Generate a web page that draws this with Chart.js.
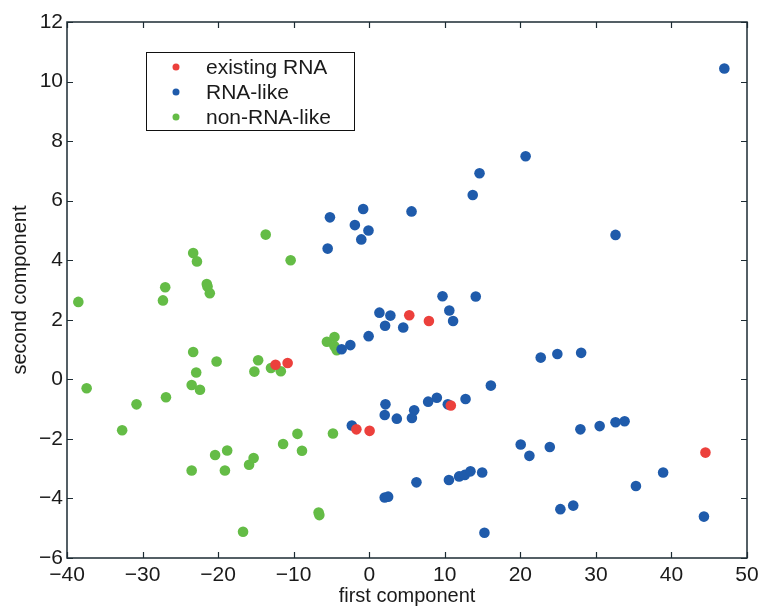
<!DOCTYPE html>
<html>
<head>
<meta charset="utf-8">
<script src="https://cdn.jsdelivr.net/npm/chart.js@4/dist/chart.umd.min.js"></script>
<style>
  html, body { margin: 0; padding: 0; background: #fff; }
  #wrap { width: 759px; height: 608px; }
</style>
</head>
<body>
<div id="wrap"><canvas id="grafico" width="759" height="608"></canvas></div>
<script>
// existing RNA (red)
const existX = [-12.4, -10.8, 5.3, 7.9, -1.7, 0.05, 10.8, 44.5];
const existY = [0.49, 0.55, 2.15, 1.96, -1.68, -1.73, -0.88, -2.46];

// RNA-like (blue)
const rnaX = [47.0, 20.7, 14.6, 13.7, 5.6, 32.6, 9.7, 14.1,
  -5.2, -5.5, -1.9, -0.8, -1.05, -0.1,
  1.35, 2.8, 10.6, 11.1, 2.1, 4.5, -0.08, -2.5, -3.65,
  22.7, 24.9, 28.05,
  16.1, 12.75, 8.95, 7.8, 10.4, 2.15, 2.05, 3.65, 5.95, 5.65, -2.3,
  20.05, 21.2, 23.9, 27.95, 30.5, 32.6, 33.8,
  38.9, 35.3, 25.3, 27.0, 44.3, 15.25,
  6.25, 10.55, 11.9, 12.65, 13.4, 14.95, 2.05, 2.5];
const rnaY = [10.44, 7.49, 6.92, 6.19, 5.64, 4.85, 2.79, 2.78,
  5.44, 4.39, 5.18, 5.72, 4.7, 5.0,
  2.24, 2.14, 2.31, 1.96, 1.8, 1.74, 1.45, 1.15, 1.01,
  0.73, 0.85, 0.89,
  -0.21, -0.66, -0.62, -0.75, -0.84, -0.84, -1.2, -1.32, -1.04, -1.3, -1.55,
  -2.19, -2.57, -2.27, -1.68, -1.57, -1.44, -1.41,
  -3.13, -3.58, -4.36, -4.24, -4.61, -5.15,
  -3.46, -3.38, -3.26, -3.21, -3.09, -3.13, -3.97, -3.94];

// non-RNA-like (green)
const nonX = [-38.5, -37.4, -32.7, -30.8, -27.3, -27.0, -26.9,
  -23.3, -22.8, -21.5, -21.4, -21.1,
  -23.3, -22.9, -23.5, -22.4, -20.2,
  -23.5, -20.4, -18.8, -19.1, -15.9, -15.3, -16.7, -6.7, -6.6,
  -14.7, -15.2, -13.0, -11.7, -9.5, -8.9, -11.4, -4.8,
  -5.6, -4.6, -4.6, -4.3, -13.7, -10.4];
const nonY = [2.6, -0.3, -1.71, -0.84, 2.65, 3.09, -0.6,
  4.24, 3.96, 3.2, 3.12, 2.89,
  0.92, 0.23, -0.19, -0.35, 0.6,
  -3.06, -2.54, -2.39, -3.06, -2.87, -2.64, -5.12, -4.47, -4.56,
  0.64, 0.26, 0.38, 0.27, -1.83, -2.4, -2.17, -1.82,
  1.26, 1.42, 1.11, 0.98, 4.86, 4.0];

const xTicks = [-40, -30, -20, -10, 0, 10, 20, 30, 40, 50];
const yTicks = [-6, -4, -2, 0, 2, 4, 6, 8, 10, 12];

const rojo = "rgb(236, 64, 60)";
const azul = "rgb(31, 91, 171)";
const verde = "rgb(100, 188, 70)";
const marco = "#1d2b33";
const fuente = "'Liberation Sans', Arial, sans-serif";

function puntos(xs, ys) {
  return xs.map((x, i) => ({ x: x, y: ys[i] }));
}
function menos(v) {
  return String(v).replace("-", "\u2212");
}

// marco con marcas hacia dentro (estilo matlab) y leyenda propia
const marcoPlugin = {
  id: "marco",
  afterDraw(chart) {
    const ctx = chart.ctx;
    const a = chart.chartArea;
    const sx = chart.scales.x, sy = chart.scales.y;
    ctx.save();
    ctx.strokeStyle = marco;
    ctx.lineWidth = 1.5;
    ctx.strokeRect(a.left, a.top, a.right - a.left, a.bottom - a.top);
    ctx.lineWidth = 1.2;
    ctx.beginPath();
    xTicks.forEach(v => {
      const p = Math.round(sx.getPixelForValue(v)) + 0.5;
      ctx.moveTo(p, a.bottom); ctx.lineTo(p, a.bottom - 6);
      ctx.moveTo(p, a.top); ctx.lineTo(p, a.top + 6);
    });
    yTicks.forEach(v => {
      const p = Math.round(sy.getPixelForValue(v)) + 0.5;
      ctx.moveTo(a.left, p); ctx.lineTo(a.left + 6, p);
      ctx.moveTo(a.right, p); ctx.lineTo(a.right - 6, p);
    });
    ctx.stroke();

    // leyenda
    const bx = 146, by = 52, bw = 208, bh = 78;
    ctx.fillStyle = "#fff";
    ctx.fillRect(bx, by, bw, bh);
    ctx.strokeStyle = "#111";
    ctx.lineWidth = 1;
    ctx.strokeRect(bx + 0.5, by + 0.5, bw, bh);
    ctx.font = "21px " + fuente;
    ctx.textBaseline = "middle";
    chart.data.datasets.forEach((d, i) => {
      const cy = 67 + i * 25;
      ctx.fillStyle = d.backgroundColor;
      ctx.beginPath();
      ctx.arc(176, cy, 3.5, 0, Math.PI * 2);
      ctx.fill();
      ctx.fillStyle = "#1a1a1a";
      ctx.fillText(d.label, 206, cy + 1);
    });
    ctx.restore();
  }
};

new Chart(document.getElementById("grafico"), {
  type: "scatter",
  data: {
    datasets: [
      { label: "existing RNA", data: puntos(existX, existY), backgroundColor: rojo, borderWidth: 0, pointRadius: 5.3, order: 1 },
      { label: "RNA-like", data: puntos(rnaX, rnaY), backgroundColor: azul, borderWidth: 0, pointRadius: 5.3, order: 2 },
      { label: "non-RNA-like", data: puntos(nonX, nonY), backgroundColor: verde, borderWidth: 0, pointRadius: 5.3, order: 3 }
    ]
  },
  options: {
    responsive: false,
    animation: false,
    layout: { padding: { top: 22, right: 0, left: 0, bottom: 0 } },
    plugins: {
      legend: { display: false },
      tooltip: { enabled: false }
    },
    scales: {
      x: {
        type: "linear",
        min: -40, max: 50,
        afterBuildTicks: s => { s.ticks = xTicks.map(v => ({ value: v })); },
        afterFit: s => { s.height = 50; s.paddingRight = 12; s.paddingLeft = 0; },
        grid: { display: false, drawTicks: false },
        border: { display: false },
        ticks: { padding: 5, color: "#1a1a1a", font: { family: fuente, size: 21 }, callback: v => menos(v) },
        title: { display: true, text: "first component", color: "#1a1a1a", font: { family: fuente, size: 20 }, padding: { top: 0, bottom: 0 } }
      },
      y: {
        type: "linear",
        min: -6, max: 12,
        afterBuildTicks: s => { s.ticks = yTicks.map(v => ({ value: v })); },
        afterFit: s => { s.width = 67; },
        grid: { display: false, drawTicks: false },
        border: { display: false },
        ticks: { padding: 4, color: "#1a1a1a", font: { family: fuente, size: 21 }, callback: v => menos(v) },
        title: { display: true, text: "second component", color: "#1a1a1a", font: { family: fuente, size: 20 }, padding: { top: 8, bottom: 0 } }
      }
    }
  },
  plugins: [marcoPlugin]
});
</script>
</body>
</html>
